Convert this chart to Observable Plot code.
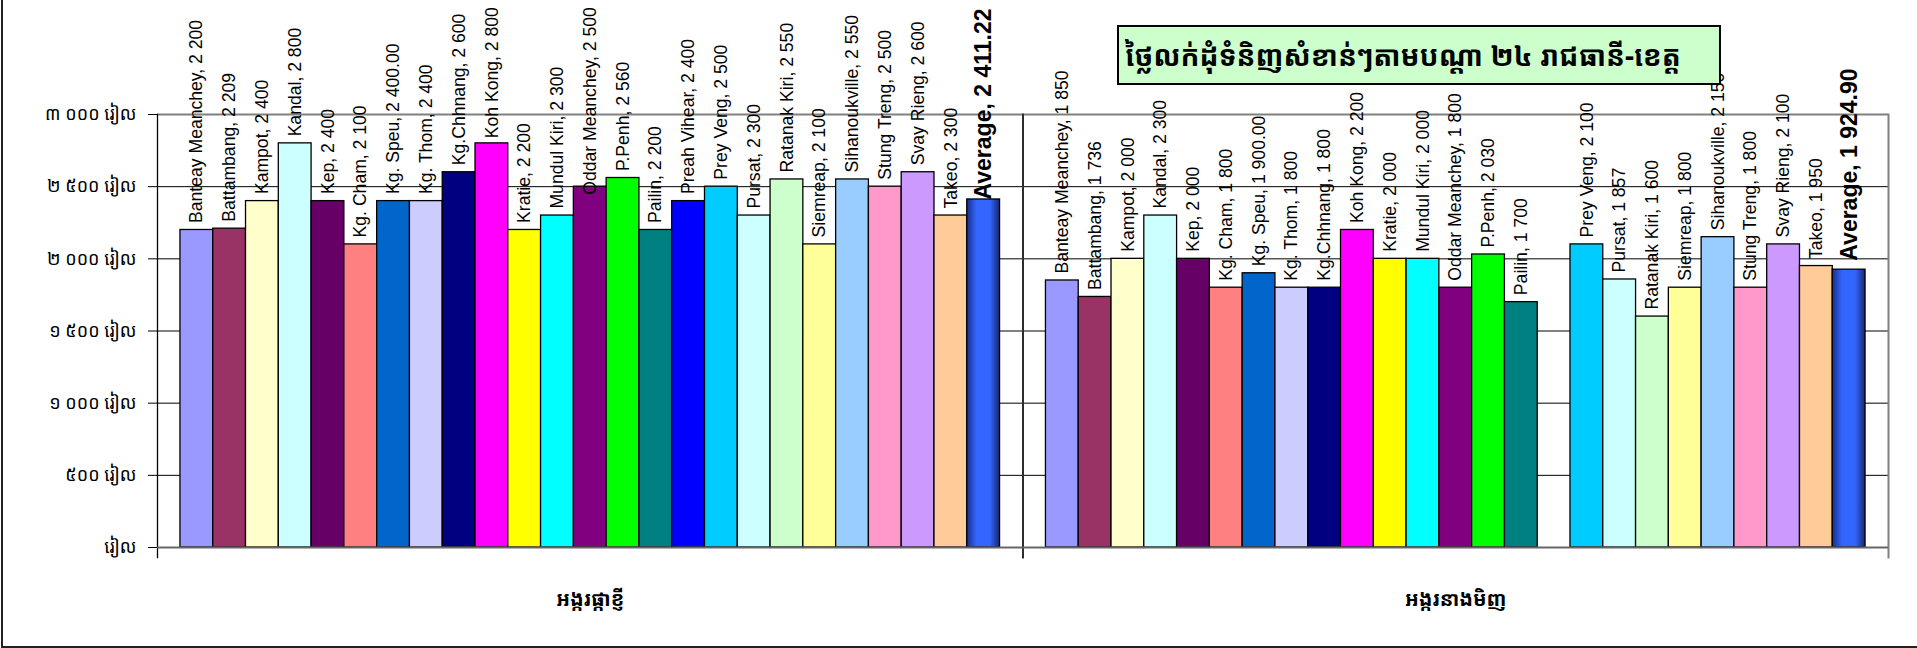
<!DOCTYPE html>
<html>
<head>
<meta charset="utf-8">
<script src="https://cdn.jsdelivr.net/npm/d3@7"></script>
<script src="https://cdn.jsdelivr.net/npm/@observablehq/plot@0.6"></script>
<style>
  html, body { margin: 0; padding: 0; background: #ffffff; }
  #wrap { position: relative; width: 1917px; height: 648px; overflow: hidden; background: #fff; }
  #outer { position: absolute; left: 1px; top: -10px; width: 1940px; height: 658px; box-sizing: border-box;
           border-left: 2px solid #222; border-bottom: 2px solid #222; pointer-events: none; }
  #title { position: absolute; left: 1117px; top: 25px; width: 604px; height: 60px; box-sizing: border-box;
           background: #CCFFCC; border: 2px solid #000; padding-left: 6px; white-space: nowrap;
           font-family: "Noto Sans Khmer", "Khmer OS", "Khmer OS System", "Noto Serif Khmer", "DejaVu Sans", sans-serif;
           font-weight: bold; font-size: 28px; line-height: 56px; color: #000; }
  svg [aria-label^="y-axis"] text { font-family: "Noto Sans Khmer", "Khmer OS", "Khmer OS System", "DejaVu Sans", sans-serif; font-size: 18px; }
  svg [aria-label^="fx-axis"] text { font-family: "Noto Sans Khmer", "Khmer OS", "Khmer OS System", "DejaVu Sans", sans-serif; font-size: 20px; font-weight: bold; }
</style>
</head>
<body>
<div id="wrap">
  <div id="chart"></div>
  <div id="title">ថ្លៃលក់ដុំទំនិញសំខាន់ៗតាមបណ្តា ២៤ រាជធានី-ខេត្ត</div>
  <div id="outer"></div>
</div>
<script>
const categories = ["អង្ករផ្កាខ្ញី", "អង្ករនាងមិញ"];

const provinces = [
  "Banteay Meanchey", "Battambang", "Kampot", "Kandal", "Kep", "Kg. Cham", "Kg. Speu",
  "Kg. Thom", "Kg.Chhnang", "Koh Kong", "Kratie", "Mundul Kiri", "Oddar Meanchey",
  "P.Penh", "Pailin", "Preah Vihear", "Prey Veng", "Pursat", "Ratanak Kiri", "Siemreap",
  "Sihanoukville", "Stung Treng", "Svay Rieng", "Takeo", "Average"
];

const barColors = [
  "#9999FF", "#993366", "#FFFFCC", "#CCFFFF", "#660066", "#FF8080", "#0066CC",
  "#CCCCFF", "#000080", "#FF00FF", "#FFFF00", "#00FFFF", "#800080",
  "#00FF00", "#008080", "#0000FF", "#00CCFF", "#CCFFFF", "#CCFFCC", "#FFFF99",
  "#99CCFF", "#FF99CC", "#CC99FF", "#FFCC99", "#3366FF"
];

const phkaKhnheyValues = [
  2200, 2209, 2400, 2800, 2400, 2100, 2400,
  2400, 2600, 2800, 2200, 2300, 2500,
  2560, 2200, 2400, 2500, 2300, 2550, 2100,
  2550, 2500, 2600, 2300, 2411.22
];
const phkaKhnheyLabels = [
  "2 200", "2 209", "2 400", "2 800", "2 400", "2 100", "2 400.00",
  "2 400", "2 600", "2 800", "2 200", "2 300", "2 500",
  "2 560", "2 200", "2 400", "2 500", "2 300", "2 550", "2 100",
  "2 550", "2 500", "2 600", "2 300", "2 411.22"
];

const neangMinhValues = [
  1850, 1736, 2000, 2300, 2000, 1800, 1900,
  1800, 1800, 2200, 2000, 2000, 1800,
  2030, 1700, null, 2100, 1857, 1600, 1800,
  2150, 1800, 2100, 1950, 1924.90
];
const neangMinhLabels = [
  "1 850", "1 736", "2 000", "2 300", "2 000", "1 800", "1 900.00",
  "1 800", "1 800", "2 200", "2 000", "2 000", "1 800",
  "2 030", "1 700", null, "2 100", "1 857", "1 600", "1 800",
  "2 150", "1 800", "2 100", "1 950", "1 924.90"
];

const yTicks = [0, 500, 1000, 1500, 2000, 2500, 3000];
const yTickLabels = ["រៀល", "៥០០ រៀល", "១ ០០០ រៀល", "១ ៥០០ រៀល", "២ ០០០ រៀល", "២ ៥០០ រៀល", "៣ ០០០ រៀល"];

// Build the table
const rows = [];
provinces.forEach((p, i) => {
  rows.push({category: categories[0], province: p, value: phkaKhnheyValues[i], label: phkaKhnheyLabels[i]});
  if (neangMinhValues[i] != null) {
    rows.push({category: categories[1], province: p, value: neangMinhValues[i], label: neangMinhLabels[i]});
  }
});
const regular = rows.filter(d => d.province !== "Average");
const avgFirst = rows.filter(d => d.province === "Average" && d.category === categories[0]);
const avgSecond = rows.filter(d => d.province === "Average" && d.category === categories[1]);
const avgAll = rows.filter(d => d.province === "Average");

const labelText = d => `${d.province}, ${d.label}`;

const chart = Plot.plot({
  width: 1917,
  height: 648,
  marginLeft: 157,
  marginRight: 29,
  marginTop: 114,
  marginBottom: 101,
  style: {fontFamily: "Arial, 'Liberation Sans', sans-serif", fontSize: "17px", background: "transparent", overflow: "visible"},
  fx: {domain: categories, padding: 0, round: false, label: null, axis: "bottom", tickSize: 0, tickPadding: 44},
  x: {domain: provinces, paddingInner: 0, paddingOuter: 0.7, round: false, axis: null},
  y: {domain: [0, 3000], ticks: yTicks, tickFormat: v => yTickLabels[yTicks.indexOf(v)], tickSize: 9, tickPadding: 12, label: null},
  color: {domain: provinces, range: barColors},
  marks: [
    Plot.ruleY(yTicks.filter(v => v > 0 && v < 3000), {stroke: "#000", strokeWidth: 1}),
    Plot.ruleY([3000], {stroke: "#808080", strokeWidth: 2}),
    Plot.frame({anchor: "right", stroke: "#808080", strokeWidth: 2, insetBottom: -10}),
    Plot.frame({anchor: "left", stroke: "#000", strokeWidth: 1.3, insetBottom: -10}),
    Plot.barY(regular, {fx: "category", x: "province", y: "value", fill: "province", stroke: "#000", strokeWidth: 1.3}),
    Plot.barY(avgAll, {fx: "category", x: "province", y: "value", fill: "url(#avgGrad)", stroke: "#000", strokeWidth: 1.3}),
    Plot.ruleY([0], {stroke: "#666", strokeWidth: 2}),
    Plot.text(regular, {fx: "category", x: "province", y: "value", text: labelText, rotate: -90,
      textAnchor: "start", lineAnchor: "middle", dy: -7, fontSize: 17.6, fill: "#000"}),
    Plot.text(avgFirst, {fx: "category", x: "province", y: "value", text: labelText, rotate: -90,
      textAnchor: "start", lineAnchor: "middle", dy: 0, fontSize: 23, fontWeight: "bold", fill: "#000"}),
    Plot.text(avgSecond, {fx: "category", x: "province", y: "value", text: labelText, rotate: -90,
      textAnchor: "start", lineAnchor: "middle", dy: -9, fontSize: 23, fontWeight: "bold", fill: "#000"})
  ]
});

d3.select(chart).insert("defs", ":first-child").html(`
  <linearGradient id="avgGrad" x1="0" y1="0" x2="1" y2="0">
    <stop offset="0" stop-color="#1a2f8a"/>
    <stop offset="0.3" stop-color="#3366FF"/>
    <stop offset="0.7" stop-color="#3366FF"/>
    <stop offset="1" stop-color="#16276e"/>
  </linearGradient>`);

document.getElementById("chart").appendChild(chart);

// Like Excel, keep data labels inside the chart area: push down any label that would run off the top.
const minTop = 7;
const svgTop = chart.getBoundingClientRect().top;
d3.select(chart).selectAll('g[aria-label="text"] text').each(function() {
  const r = this.getBoundingClientRect();
  const top = r.top - svgTop;
  if (top < minTop) {
    const t = this.getAttribute("transform") || "";
    const m = t.match(/translate\(\s*([-\d.e]+)[ ,]+([-\d.e]+)\s*\)/);
    if (m) {
      const nx = +m[1], ny = +m[2] + (minTop - top);
      this.setAttribute("transform", t.replace(m[0], `translate(${nx},${ny})`));
    }
  }
});
</script>
</body>
</html>
